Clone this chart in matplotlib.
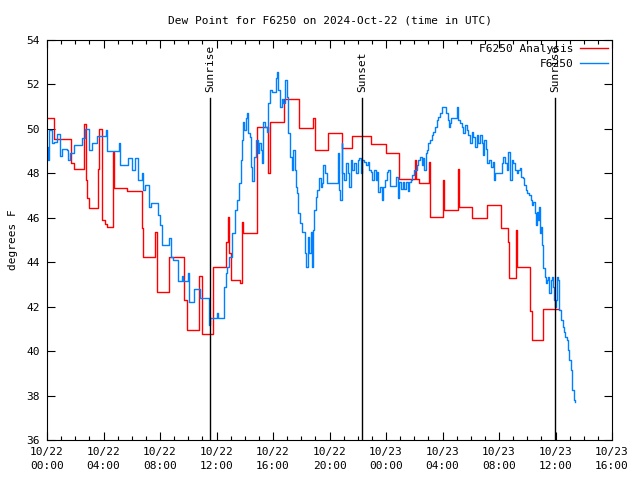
import matplotlib
matplotlib.use("Agg")
import matplotlib.pyplot as plt
from matplotlib.ticker import MultipleLocator, FixedLocator

# hours since 2024-10-22 00:00 UTC
ana_t = [0.0, 0.52, 1.68, 1.88, 2.64, 2.74, 2.81, 2.97, 3.63, 3.68, 3.87, 4.1, 4.23, 4.65, 4.74,
         5.64, 6.7, 6.8, 7.65, 7.79, 8.66, 9.72, 9.89, 10.76, 10.95, 11.77, 12.67, 12.81, 12.91,
         13.0, 13.66, 13.78, 13.9, 14.85, 15.67, 15.79, 16.8, 17.86, 18.85, 18.94, 19.92, 20.86,
         21.61, 22.94, 24.0, 24.94, 26.05, 26.12, 26.34, 27.07, 27.14, 28.06, 28.11, 29.12, 29.19,
         30.07, 31.13, 32.12, 32.66, 32.71, 33.18, 33.3, 34.19, 34.31, 35.14, 36.25]
ana_v = [50.49, 49.53, 48.47, 48.2, 50.2, 47.7, 46.9, 46.44, 48.2, 50.0, 45.9, 45.7, 45.58, 48.97, 47.34,
         47.2, 45.55, 44.25, 45.37, 42.66, 44.25, 42.3, 40.95, 43.4, 40.78, 43.8, 44.9, 46.05, 44.4,
         43.2, 43.08, 45.83, 45.3, 50.1, 48.0, 50.3, 51.33, 50.03, 50.48, 49.05, 49.83, 49.13,
         49.68, 49.32, 48.9, 47.73, 48.6, 47.73, 47.58, 48.5, 46.02, 47.7, 46.35, 48.2, 46.47,
         46.0, 46.56, 45.53, 44.93, 43.3, 45.45, 43.8, 41.8, 40.5, 41.88, 41.88]

obs_t = [0.0, 0.05, 0.14, 0.38, 0.52, 0.69, 0.92, 1.04, 1.39, 1.51, 1.63, 1.93, 2.5, 2.69, 3.0, 3.16,
         3.52, 4.18, 4.25, 5.1, 5.17, 5.71, 6.04, 6.23, 6.42, 6.7, 6.82, 6.94, 7.24, 7.36, 7.83, 7.99,
         8.12, 8.64, 8.78, 8.94, 9.25, 9.53, 9.65, 9.96, 10.08, 10.43,
         10.83, 11.49, 11.54, 12.01, 12.13, 12.55, 12.67, 12.77, 12.91, 13.07, 13.31, 13.43, 13.62,
         13.71, 13.78, 13.85, 13.95, 14.09, 14.14, 14.25, 14.37, 14.44, 14.49, 14.68, 14.8, 14.92,
         15.03, 15.15, 15.22, 15.31, 15.43, 15.55, 15.67, 15.79, 15.91, 16.21, 16.3, 16.38, 16.5,
         16.62, 16.73, 16.85, 17.01, 17.08, 17.2, 17.32, 17.44, 17.56, 17.63, 17.72, 17.79, 17.91,
         18.03, 18.27, 18.34, 18.5, 18.57, 18.67, 18.76, 18.85, 18.92, 19.04, 19.14, 19.28, 19.38,
         19.47, 19.56, 19.68, 19.8, 20.62, 20.69,
         20.74, 20.86, 20.91, 21.05, 21.15, 21.29, 21.38, 21.52, 21.61, 21.76, 21.85, 22.0, 22.09,
         22.23, 22.32, 22.46, 22.56, 22.7, 22.8, 22.94, 23.03, 23.17, 23.27, 23.36, 23.46, 23.58,
         23.7, 23.81, 23.93, 24.05, 24.16, 24.28, 24.71, 24.83, 24.92, 25.06, 25.18, 25.3, 25.39,
         25.54, 25.63, 25.77, 25.86, 26.0, 26.19, 26.29, 26.41, 26.53, 26.62, 26.71, 26.81, 26.9,
         27.0, 27.12, 27.24, 27.35, 27.47, 27.59, 27.7, 27.82, 27.94, 28.23, 28.37, 28.46, 28.53,
         28.6, 29.03, 29.12, 29.24, 29.36, 29.47, 29.59, 29.71, 29.83, 29.95, 30.07, 30.18, 30.3,
         30.42, 30.53, 30.65, 30.77, 30.85, 30.96,
         31.08, 31.17, 31.31, 31.41, 31.55, 31.65, 31.72, 32.19, 32.3, 32.42, 32.55, 32.66, 32.78,
         32.9, 33.01, 33.13, 33.25, 33.37, 33.49, 33.56, 33.68, 33.77, 33.91, 34.0, 34.15, 34.24,
         34.32, 34.43, 34.55, 34.62, 34.71, 34.78, 34.85, 34.9, 34.97, 35.02, 35.09, 35.14, 35.26,
         35.33, 35.42, 35.49, 35.56, 35.66, 35.73, 35.8, 35.89, 35.96, 36.04, 36.13, 36.2, 36.27,
         36.37, 36.51, 36.6, 36.69, 36.79, 36.91, 36.98, 37.08, 37.15, 37.2, 37.33, 37.38]
obs_v = [49.2, 48.6, 49.95, 49.35, 49.4, 49.77, 48.8, 49.1, 49.05, 48.6, 48.9, 49.27, 49.6, 50.0, 49.05, 49.35,
         49.68, 49.95, 49.02, 49.35, 48.38, 48.7, 48.15, 48.7, 47.7, 48.0, 47.25, 47.47, 46.5, 46.66, 46.13, 45.68,
         44.78, 45.1, 44.25, 44.1, 43.15, 43.4, 43.15, 43.5, 42.22, 42.8,
         42.4, 41.18, 41.48, 41.7, 41.48, 42.9, 43.5, 43.8, 44.25, 45.3, 46.35, 46.8, 47.55,
         48.6, 49.5, 50.32, 49.95, 50.48, 50.7, 49.8, 49.65, 48.3, 47.67, 48.75, 49.5, 48.9,
         49.35, 49.05, 48.45, 50.32, 50.1, 49.87, 51.15, 51.75, 51.67, 52.27, 52.57, 51.75, 51.0,
         51.33, 51.15, 52.22, 51.45, 49.8, 48.75, 48.15, 49.05, 48.15, 47.4, 47.1, 46.2, 45.75,
         45.37, 44.4, 43.8, 45.15, 44.4, 45.37, 43.8, 45.45, 46.35, 46.95, 47.25, 47.78, 47.4,
         47.55, 48.38, 48.0, 47.55, 48.9, 47.25,
         46.8, 49.35, 48.0, 47.7, 48.45, 48.0, 47.4, 48.6, 48.15, 48.45, 48.0, 48.6, 48.7,
         48.0, 48.6, 48.5, 48.38, 48.5, 48.15, 48.07, 47.7, 48.15, 47.7, 48.07, 47.17, 47.4,
         46.8, 47.4, 47.7, 48.07, 48.15, 47.43, 47.85, 46.88, 47.6, 47.3, 47.6, 47.3, 47.6,
         47.22, 47.6, 47.7, 47.92, 48.15, 48.38, 48.6, 48.75, 48.38, 48.68, 48.15, 48.9, 49.05,
         49.35, 49.5, 49.72, 49.87, 50.1, 50.4, 50.55, 50.7, 50.97, 50.7, 50.4, 50.1, 50.25,
         50.48, 50.97, 50.4, 50.25, 50.1, 49.8, 50.18, 49.95, 49.72, 49.35, 49.87, 49.65, 49.2,
         49.72, 49.35, 49.72, 49.35, 48.83, 49.5,
         49.1, 48.45, 48.6, 48.3, 48.53, 47.7, 48.0, 48.45, 48.75, 48.45, 48.15, 48.97, 47.7,
         48.6, 48.45, 48.15, 48.0, 48.15, 48.22, 47.85, 47.78, 47.47, 47.25, 47.1, 47.03, 46.8,
         46.58, 46.73, 46.2, 45.68, 46.28, 45.9, 46.5, 45.3, 45.6, 44.78, 44.25, 43.73, 43.35,
         43.05, 43.2, 43.35, 42.6, 43.2, 43.35, 42.9, 42.3, 42.0, 42.3, 43.35, 43.2, 41.85,
         41.4, 41.1, 40.88, 40.65, 40.5, 40.05, 39.6, 39.15, 38.7, 38.25, 37.8, 37.7]

sun_t = [11.54, 22.3, 35.96]
sun_labels = ["Sunrise", "Sunset", "Sunrise"]

x_ticks = [0, 4, 8, 12, 16, 20, 24, 28, 32, 36, 40]
x_labels = ["10/22\n00:00", "10/22\n04:00", "10/22\n08:00", "10/22\n12:00", "10/22\n16:00",
            "10/22\n20:00", "10/23\n00:00", "10/23\n04:00", "10/23\n08:00", "10/23\n12:00",
            "10/23\n16:00"]

plt.rcParams['font.family'] = ['DejaVu Sans Mono']
plt.rcParams['font.size'] = 8

fig = plt.figure(figsize=(6.4, 4.8), dpi=100)
ax = fig.add_axes([47/640, 40/480, 565/640, 400/480])

ax.plot(ana_t, ana_v, drawstyle='steps-post', color='#ff0000', lw=1.0, label='F6250 Analysis')
ax.plot(obs_t, obs_v, drawstyle='steps-post', color='#0080ff', lw=1.0, label='F6250')

for t, lab in zip(sun_t, sun_labels):
    ax.plot([t, t], [0, 0.855], color='black', lw=1.0, transform=ax.get_xaxis_transform())
    ax.text(t, 0.87, lab, rotation=90, ha='center', va='bottom',
            transform=ax.get_xaxis_transform(), fontsize=8)

ax.set_xlim(0, 40)
ax.set_ylim(36, 54)
ax.xaxis.set_major_locator(FixedLocator(x_ticks))
ax.set_xticklabels(x_labels, linespacing=1.45)
ax.xaxis.set_minor_locator(MultipleLocator(1))
ax.yaxis.set_major_locator(MultipleLocator(2))
ax.tick_params(which='both', direction='in', top=True, right=True, width=0.8)
ax.tick_params(which='major', length=6, pad=5)
ax.tick_params(which='minor', length=3)
for s in ax.spines.values():
    s.set_linewidth(0.8)

ax.set_ylabel('degrees F', labelpad=6)
ax.set_title('Dew Point for F6250 on 2024-Oct-22 (time in UTC)', fontsize=8, pad=12)

leg = ax.legend(loc='upper right', frameon=False, markerfirst=False, handlelength=2.5,
                borderaxespad=0.15, borderpad=0.2, handletextpad=0.6, labelspacing=0.45,
                fontsize=8)
for t in leg.get_texts():
    t.set_ha('right')

fig.savefig('out.png', dpi=100)
